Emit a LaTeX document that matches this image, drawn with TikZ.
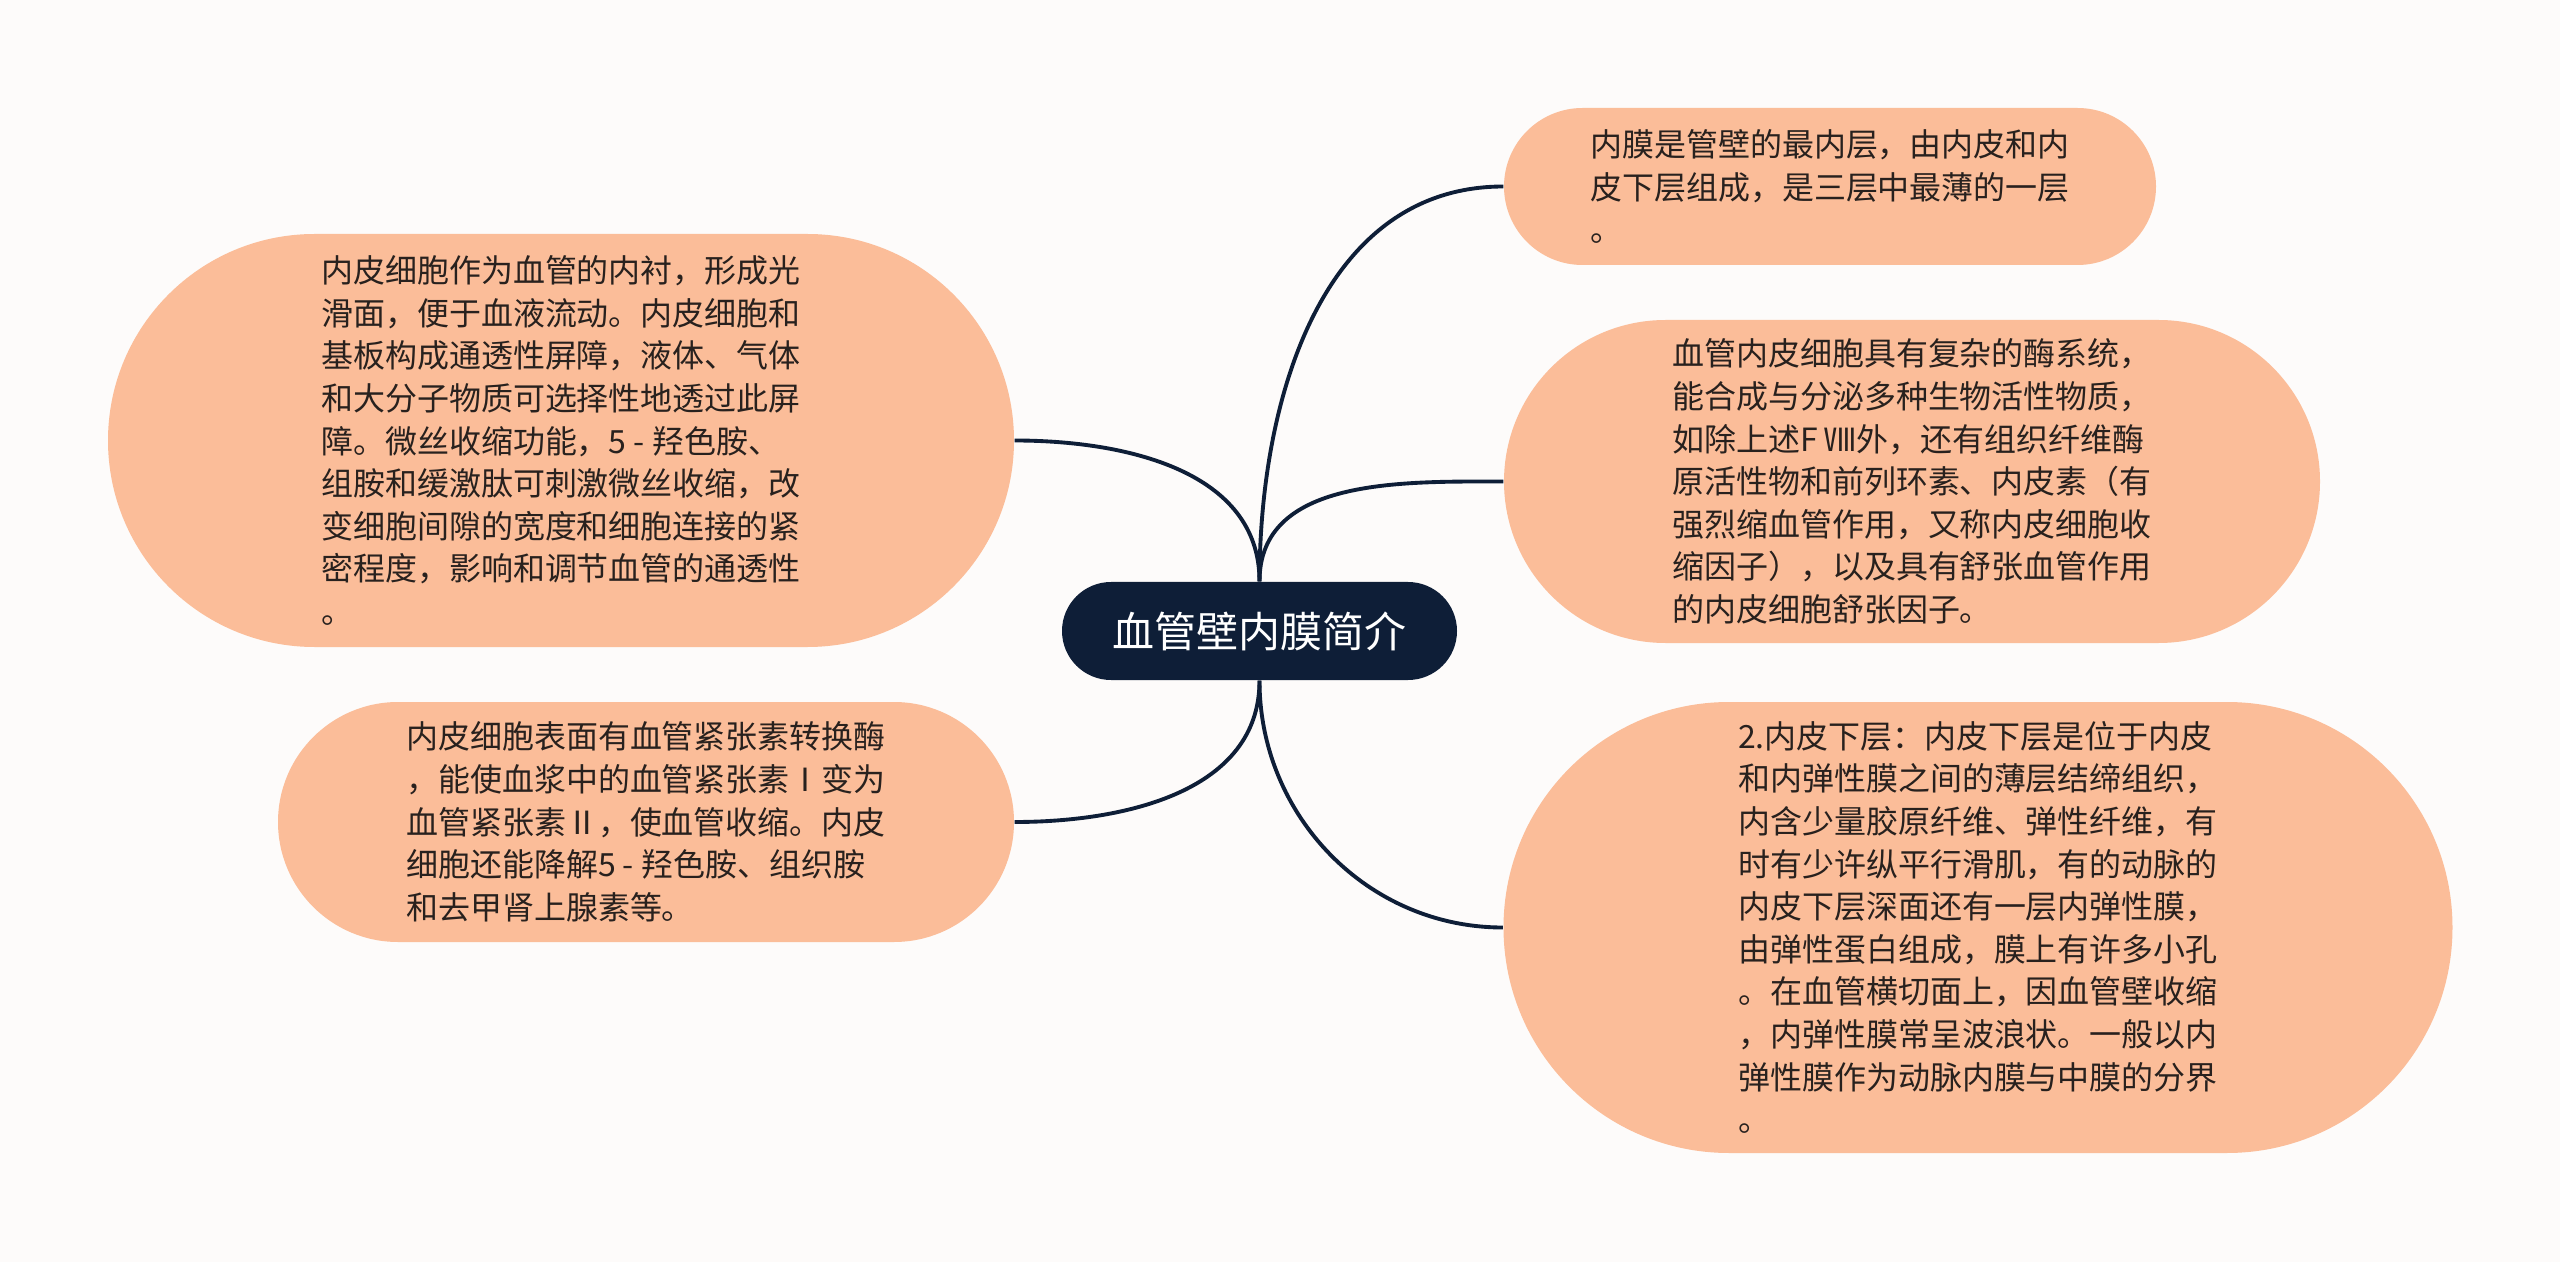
\documentclass[tikz,border=0pt]{standalone}
\usepackage{fontspec}
\setmainfont{Noto Sans CJK SC}
\usetikzlibrary{shapes.misc}

\definecolor{paper}{RGB}{253,251,250}
\definecolor{navy}{RGB}{14,30,55}
\definecolor{peach}{RGB}{251,189,153}
\definecolor{ink}{RGB}{40,33,30}

\tikzset{
  topic/.style={shape=rounded rectangle, fill=navy, text=white, inner sep=0pt,
    font=\fontsize{11.95pt}{14pt}\selectfont},
  leaf/.style={shape=rounded rectangle, fill=peach, text=ink, inner sep=0pt,
    align=left, font=\fontsize{9.1pt}{12.12pt}\selectfont},
  link/.style={draw=navy, line width=1.1pt}
}

\begin{document}
\begin{tikzpicture}
\useasboundingbox[fill=paper] (0,0) rectangle (25.6,-12.62);

\node[topic, minimum width=3.95cm, minimum height=0.98cm] at (12.595,-6.31)
(root) {血管壁内膜简介};

\node[leaf, minimum width=9.06cm, minimum height=4.13cm] at (5.61,-4.405)
(la) {内皮细胞作为血管的内衬，形成光\\滑面，便于血液流动。内皮细胞和\\基板构成通透性屏障，液体、气体\\和大分子物质可选择性地透过此屏\\障。微丝收缩功能，5 - 羟色胺、\\组胺和缓激肽可刺激微丝收缩，改\\变细胞间隙的宽度和细胞连接的紧\\密程度，影响和调节血管的通透性\\。};

\node[leaf, minimum width=7.36cm, minimum height=2.40cm] at (6.46,-8.22)
(lb) {内皮细胞表面有血管紧张素转换酶\\，能使血浆中的血管紧张素Ⅰ变为\\血管紧张素Ⅱ，使血管收缩。内皮\\细胞还能降解5 - 羟色胺、组织胺\\和去甲肾上腺素等。};

\node[leaf, minimum width=6.52cm, minimum height=1.57cm] at (18.30,-1.865)
(ra) {内膜是管壁的最内层，由内皮和内\\皮下层组成，是三层中最薄的一层\\。};

\node[leaf, minimum width=8.16cm, minimum height=3.23cm] at (19.12,-4.815)
(rb) {血管内皮细胞具有复杂的酶系统，\\能合成与分泌多种生物活性物质，\\如除上述F Ⅷ外，还有组织纤维酶\\原活性物和前列环素、内皮素（有\\强烈缩血管作用，又称内皮细胞收\\缩因子），以及具有舒张血管作用\\的内皮细胞舒张因子。};

\node[leaf, minimum width=9.49cm, minimum height=4.51cm] at (19.78,-9.275)
(rc) {2.内皮下层：内皮下层是位于内皮\\和内弹性膜之间的薄层结缔组织，\\内含少量胶原纤维、弹性纤维，有\\时有少许纵平行滑肌，有的动脉的\\内皮下层深面还有一层内弹性膜，\\由弹性蛋白组成，膜上有许多小孔\\。在血管横切面上，因血管壁收缩\\，内弹性膜常呈波浪状。一般以内\\弹性膜作为动脉内膜与中膜的分界\\。};

\draw[link]
  (root.north) edge[out=90, in=0]   (la.east)
  (root.north) edge[out=90, in=180] (ra.west)
  (root.north) edge[out=90, in=180] (rb.west)
  (root.south) edge[out=-90, in=0]  (lb.east)
  (root.south) edge[out=-90, in=180] (rc.west)
;
\end{tikzpicture}
\end{document}
